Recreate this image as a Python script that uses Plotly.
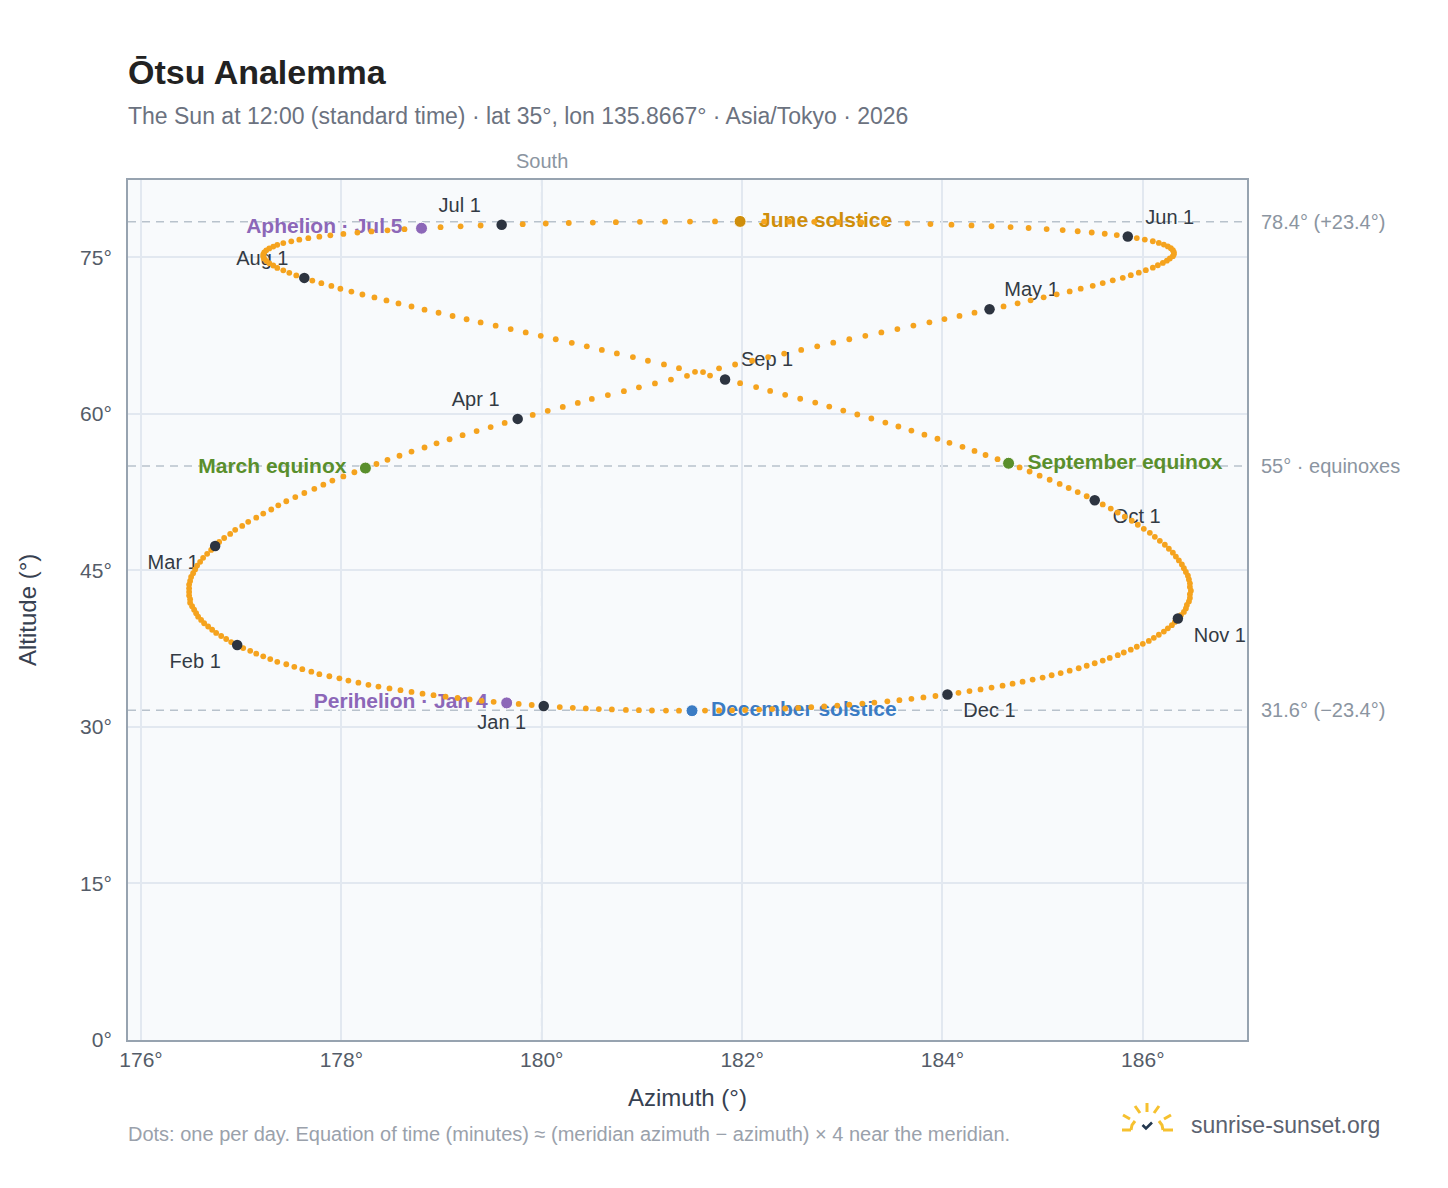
import plotly.graph_objects as go

# ---------------- data ----------------
AZIMUTH_DEG = [
    180.02, 179.90, 179.77, 179.65, 179.52, 179.40, 179.28, 179.16, 179.04, 178.92,
    178.81, 178.70, 178.59, 178.48, 178.37, 178.27, 178.17, 178.07, 177.98, 177.88,
    177.78, 177.70, 177.61, 177.53, 177.45, 177.36, 177.29, 177.22, 177.15, 177.09,
    177.02, 176.96, 176.90, 176.85, 176.80, 176.75, 176.71, 176.67, 176.63, 176.60,
    176.57, 176.55, 176.53, 176.51, 176.49, 176.49, 176.48, 176.48, 176.48, 176.48,
    176.49, 176.50, 176.52, 176.54, 176.56, 176.59, 176.62, 176.66, 176.70, 176.74,
    176.78, 176.83, 176.89, 176.94, 177.01, 177.07, 177.15, 177.22, 177.30, 177.37,
    177.45, 177.54, 177.63, 177.73, 177.82, 177.91, 178.02, 178.13, 178.24, 178.35,
    178.46, 178.58, 178.70, 178.83, 178.95, 179.08, 179.21, 179.35, 179.49, 179.63,
    179.76, 179.91, 180.06, 180.21, 180.36, 180.50, 180.66, 180.82, 180.97, 181.13,
    181.29, 181.45, 181.61, 181.77, 181.93, 182.10, 182.26, 182.42, 182.59, 182.75,
    182.91, 183.07, 183.23, 183.39, 183.55, 183.71, 183.87, 184.02, 184.17, 184.32,
    184.47, 184.61, 184.75, 184.88, 185.01, 185.14, 185.27, 185.38, 185.50, 185.60,
    185.70, 185.80, 185.88, 185.96, 186.03, 186.10, 186.15, 186.20, 186.24, 186.27,
    186.30, 186.31, 186.31, 186.30, 186.28, 186.25, 186.21, 186.16, 186.10, 186.02,
    185.94, 185.85, 185.74, 185.62, 185.49, 185.35, 185.20, 185.04, 184.86, 184.68,
    184.49, 184.29, 184.09, 183.88, 183.65, 183.42, 183.19, 182.96, 182.72, 182.47,
    182.22, 181.98, 181.73, 181.48, 181.23, 180.98, 180.74, 180.51, 180.27, 180.04,
    179.81, 179.60, 179.39, 179.19, 178.99, 178.80, 178.63, 178.46, 178.30, 178.16,
    178.02, 177.89, 177.78, 177.67, 177.58, 177.50, 177.42, 177.36, 177.32, 177.28,
    177.25, 177.23, 177.22, 177.22, 177.23, 177.25, 177.28, 177.32, 177.36, 177.42,
    177.48, 177.55, 177.63, 177.71, 177.80, 177.90, 177.99, 178.10, 178.21, 178.33,
    178.45, 178.57, 178.70, 178.83, 178.97, 179.11, 179.25, 179.39, 179.54, 179.69,
    179.84, 179.99, 180.14, 180.30, 180.45, 180.60, 180.75, 180.91, 181.06, 181.22,
    181.37, 181.53, 181.68, 181.83, 181.98, 182.14, 182.28, 182.43, 182.58, 182.73,
    182.87, 183.01, 183.15, 183.29, 183.43, 183.56, 183.69, 183.82, 183.95, 184.07,
    184.20, 184.32, 184.43, 184.55, 184.66, 184.77, 184.87, 184.97, 185.07, 185.17,
    185.26, 185.35, 185.44, 185.52, 185.60, 185.68, 185.75, 185.82, 185.89, 185.95,
    186.01, 186.07, 186.12, 186.17, 186.22, 186.26, 186.30, 186.33, 186.36, 186.39,
    186.41, 186.43, 186.45, 186.46, 186.47, 186.47, 186.48, 186.47, 186.47, 186.46,
    186.44, 186.43, 186.41, 186.38, 186.35, 186.32, 186.29, 186.25, 186.21, 186.16,
    186.11, 186.06, 186.00, 185.94, 185.88, 185.81, 185.75, 185.67, 185.60, 185.52,
    185.44, 185.36, 185.27, 185.18, 185.09, 185.00, 184.90, 184.80, 184.70, 184.60,
    184.49, 184.38, 184.27, 184.16, 184.05, 183.93, 183.81, 183.69, 183.57, 183.45,
    183.32, 183.20, 183.07, 182.95, 182.82, 182.69, 182.56, 182.43, 182.30, 182.17,
    182.03, 181.90, 181.77, 181.63, 181.50, 181.37, 181.24, 181.10, 180.97, 180.84,
    180.70, 180.57, 180.44, 180.31, 180.18,
]

ALTITUDE_DEG = [
    32.00, 32.10, 32.20, 32.30, 32.40, 32.50, 32.63, 32.77, 32.90, 33.04,
    33.18, 33.35, 33.52, 33.69, 33.86, 34.03, 34.24, 34.44, 34.65, 34.85,
    35.05, 35.29, 35.53, 35.76, 36.00, 36.23, 36.50, 36.76, 37.02, 37.29,
    37.55, 37.84, 38.13, 38.42, 38.71, 39.00, 39.31, 39.62, 39.93, 40.25,
    40.56, 40.89, 41.23, 41.56, 41.90, 42.23, 42.58, 42.93, 43.28, 43.64,
    43.99, 44.36, 44.72, 45.09, 45.46, 45.82, 46.20, 46.58, 46.96, 47.34,
    47.72, 48.10, 48.49, 48.88, 49.26, 49.65, 50.05, 50.44, 50.83, 51.23,
    51.62, 52.02, 52.41, 52.81, 53.21, 53.60, 54.00, 54.40, 54.80, 55.19,
    55.59, 55.98, 56.38, 56.77, 57.17, 57.56, 57.95, 58.34, 58.73, 59.12,
    59.51, 59.89, 60.28, 60.66, 61.04, 61.42, 61.79, 62.17, 62.54, 62.91,
    63.28, 63.64, 64.00, 64.36, 64.72, 65.08, 65.43, 65.77, 66.12, 66.46,
    66.81, 67.14, 67.47, 67.80, 68.12, 68.45, 68.76, 69.07, 69.38, 69.69,
    70.01, 70.29, 70.58, 70.87, 71.16, 71.45, 71.72, 71.99, 72.26, 72.52,
    72.79, 73.03, 73.28, 73.52, 73.76, 74.00, 74.23, 74.45, 74.67, 74.88,
    75.10, 75.29, 75.48, 75.67, 75.86, 76.04, 76.21, 76.37, 76.53, 76.69,
    76.84, 76.98, 77.12, 77.25, 77.37, 77.49, 77.60, 77.70, 77.80, 77.89,
    77.97, 78.05, 78.12, 78.18, 78.24, 78.28, 78.33, 78.36, 78.39, 78.41,
    78.42, 78.43, 78.43, 78.42, 78.41, 78.39, 78.36, 78.32, 78.28, 78.23,
    78.17, 78.11, 78.04, 77.96, 77.88, 77.78, 77.69, 77.58, 77.47, 77.36,
    77.23, 77.10, 76.97, 76.83, 76.68, 76.52, 76.36, 76.19, 76.02, 75.84,
    75.66, 75.46, 75.27, 75.07, 74.86, 74.65, 74.43, 74.21, 73.98, 73.75,
    73.51, 73.26, 73.02, 72.76, 72.51, 72.25, 71.98, 71.71, 71.43, 71.15,
    70.86, 70.57, 70.28, 69.98, 69.68, 69.37, 69.06, 68.75, 68.44, 68.12,
    67.80, 67.47, 67.14, 66.80, 66.46, 66.12, 65.78, 65.43, 65.08, 64.73,
    64.37, 64.02, 63.66, 63.29, 62.93, 62.56, 62.19, 61.82, 61.44, 61.07,
    60.69, 60.31, 59.93, 59.55, 59.16, 58.78, 58.39, 58.00, 57.61, 57.22,
    56.83, 56.44, 56.05, 55.65, 55.26, 54.86, 54.47, 54.07, 53.68, 53.28,
    52.89, 52.50, 52.10, 51.71, 51.32, 50.92, 50.53, 50.14, 49.75, 49.37,
    48.98, 48.59, 48.21, 47.83, 47.45, 47.07, 46.69, 46.32, 45.95, 45.57,
    45.21, 44.84, 44.48, 44.12, 43.76, 43.41, 43.05, 42.71, 42.36, 42.02,
    41.68, 41.35, 41.02, 40.70, 40.38, 40.06, 39.75, 39.44, 39.13, 38.83,
    38.53, 38.24, 37.96, 37.68, 37.40, 37.13, 36.87, 36.61, 36.35, 36.10,
    35.86, 35.62, 35.39, 35.16, 34.95, 34.73, 34.53, 34.33, 34.14, 33.95,
    33.77, 33.59, 33.43, 33.26, 33.11, 32.96, 32.82, 32.69, 32.56, 32.45,
    32.33, 32.23, 32.13, 32.04, 31.96, 31.89, 31.82, 31.76, 31.71, 31.66,
    31.62, 31.59, 31.57, 31.56, 31.55, 31.55, 31.56, 31.57, 31.60, 31.63,
    31.67, 31.71, 31.77, 31.83, 31.90,
]

MONTH_LABELS = ["Jan 1", "Feb 1", "Mar 1", "Apr 1", "May 1", "Jun 1",
                "Jul 1", "Aug 1", "Sep 1", "Oct 1", "Nov 1", "Dec 1"]
MONTH_START_INDEX = [0, 31, 59, 90, 120, 151, 181, 212, 243, 273, 304, 334]

EVENT_LABELS = ["Perihelion · Jan 4", "March equinox", "June solstice",
                "Aphelion · Jul 5", "September equinox", "December solstice"]
EVENT_INDEX = [3, 78, 171, 185, 264, 354]

REF_ALTITUDES = [78.4, 55.0, 31.6]
REF_LABELS = ["78.4° (+23.4°)", "55° · equinoxes", "31.6° (−23.4°)"]
MERIDIAN_AZ = 180

X_TICKS = [176, 178, 180, 182, 184, 186]
Y_TICKS = [0, 15, 30, 45, 60, 75]
X_RANGE = [175.87, 187.04]
Y_RANGE = [0, 82.4]

# ---------------- style ----------------
FONT = "Liberation Sans, Arial, Helvetica, sans-serif"
W, H = 1448, 1188
PAGE_OFFSET = 8          # default body margin of the html page
MARGIN = dict(l=120, r=209, t=172, b=156)
PW = W - MARGIN["l"] - MARGIN["r"]
PH = H - MARGIN["t"] - MARGIN["b"]
DX = (X_RANGE[1] - X_RANGE[0]) / PW   # data units per pixel
DY = (Y_RANGE[1] - Y_RANGE[0]) / PH

DOT_COLOR = "#f5a31e"
MONTH_DOT_COLOR = "#2d3440"
MONTH_TEXT_COLOR = "#333a44"
REF_COLOR = "#b8c2cc"
REF_TEXT = "#8b95a1"
TICK_TEXT = "#545c68"

# label side per month: (horizontal sign, vertical sign: +1 = below)
MONTH_LABEL_SIDE = [(-1, 1), (-1, 1), (-1, 1), (-1, -1), (1, -1), (1, -1),
                    (-1, -1), (-1, -1), (1, -1), (1, 1), (1, 1), (1, 1)]
EVENT_COLORS = ["#8c67b8", "#5a8f2c", "#cf8e0b", "#8c67b8", "#5a8f2c", "#3b7cc4"]
EVENT_SIDE = [-1, -1, 1, -1, 1, 1]


def px2paper_x(px):
    return (px - PAGE_OFFSET - MARGIN["l"]) / PW


def px2paper_y(py):
    return (MARGIN["t"] + PH - (py - PAGE_OFFSET)) / PH


fig = go.Figure()

# month labels (drawn first so the dots sit on top of them)
mx, my = [], []
for (sx, sy), i in zip(MONTH_LABEL_SIDE, MONTH_START_INDEX):
    mx.append(AZIMUTH_DEG[i] + sx * 42 * DX)
    my.append(ALTITUDE_DEG[i] - sy * 18 * DY)
fig.add_trace(go.Scatter(
    x=mx, y=my, mode="text", text=MONTH_LABELS, textposition="middle center",
    textfont=dict(family=FONT, size=20, color=MONTH_TEXT_COLOR),
    hoverinfo="skip", showlegend=False, cliponaxis=False))

# event labels
ex, ey, etxt, epos = [], [], [], []
for lab, i, side in zip(EVENT_LABELS, EVENT_INDEX, EVENT_SIDE):
    ex.append(AZIMUTH_DEG[i] + side * 19 * DX)
    ey.append(ALTITUDE_DEG[i])
    etxt.append("<b>" + lab + "</b>")
    epos.append("middle right" if side > 0 else "middle left")
fig.add_trace(go.Scatter(
    x=ex, y=ey, mode="text", text=etxt, textposition=epos,
    textfont=dict(family=FONT, size=21, color=EVENT_COLORS),
    hoverinfo="skip", showlegend=False, cliponaxis=False))

# daily dots
fig.add_trace(go.Scatter(
    x=AZIMUTH_DEG, y=ALTITUDE_DEG, mode="markers",
    marker=dict(size=5.8, color=DOT_COLOR, line=dict(width=0)),
    showlegend=False, hovertemplate="%{x:.2f}°, %{y:.2f}°<extra></extra>"))

# first-of-month dots
fig.add_trace(go.Scatter(
    x=[AZIMUTH_DEG[i] for i in MONTH_START_INDEX],
    y=[ALTITUDE_DEG[i] for i in MONTH_START_INDEX],
    mode="markers", marker=dict(size=10.5, color=MONTH_DOT_COLOR, line=dict(width=0)),
    text=MONTH_LABELS, hovertemplate="%{text}<extra></extra>", showlegend=False))

# event markers
fig.add_trace(go.Scatter(
    x=[AZIMUTH_DEG[i] for i in EVENT_INDEX],
    y=[ALTITUDE_DEG[i] for i in EVENT_INDEX],
    mode="markers", marker=dict(size=12, color=EVENT_COLORS, line=dict(width=1, color="white")),
    text=EVENT_LABELS, hovertemplate="%{text}<extra></extra>", showlegend=False))

shapes = []
for a in REF_ALTITUDES:
    shapes.append(dict(type="line", xref="paper", x0=0, x1=1, yref="y", y0=a, y1=a,
                       line=dict(color=REF_COLOR, width=1.6, dash="8px,6px"), layer="below"))
shapes.append(dict(type="line", xref="x", x0=MERIDIAN_AZ, x1=MERIDIAN_AZ, yref="paper", y0=0, y1=1,
                   line=dict(color=REF_COLOR, width=1.6, dash="8px,6px"), layer="below"))

# logo (sun with rays + check)
SUN = "#f6c12f"
NAVY = "#24384f"
ray_px = [((1147, 1103), (1147, 1112)), ((1135, 1106), (1140, 1113)), ((1159, 1106), (1154, 1113)),
          ((1123, 1115), (1130, 1119)), ((1171, 1115), (1164, 1119)),
          ((1122, 1130), (1131, 1130)), ((1163, 1130), (1173, 1130))]
for (a, b) in ray_px:
    shapes.append(dict(type="line", xref="paper", yref="paper",
                       x0=px2paper_x(a[0]), y0=px2paper_y(a[1]), x1=px2paper_x(b[0]), y1=px2paper_y(b[1]),
                       line=dict(color=SUN, width=3)))


def path_px(points):
    return "M " + " L ".join(f"{px2paper_x(x):.5f},{px2paper_y(y):.5f}" for x, y in points)


shapes.append(dict(type="path", xref="paper", yref="paper",
                   path=path_px([(1131, 1130), (1132, 1125), (1135, 1121)]),
                   line=dict(color=SUN, width=3)))
shapes.append(dict(type="path", xref="paper", yref="paper",
                   path=path_px([(1163, 1130), (1162, 1125), (1159, 1121)]),
                   line=dict(color=SUN, width=3)))
shapes.append(dict(type="path", xref="paper", yref="paper",
                   path=path_px([(1142.5, 1125), (1146, 1128.5), (1152, 1122.5)]),
                   line=dict(color=NAVY, width=2.6)))

ann = []
ann.append(dict(text="<b>Ōtsu Analemma</b>", xref="paper", yref="paper", x=0, y=px2paper_y(72),
                xanchor="left", yanchor="middle", xshift=-2, showarrow=False,
                font=dict(family=FONT, size=34, color="#222222")))
ann.append(dict(text="The Sun at 12:00 (standard time) · lat 35°, lon 135.8667° · Asia/Tokyo · 2026",
                xref="paper", yref="paper", x=0, y=px2paper_y(116), xanchor="left", yanchor="middle",
                xshift=-2, showarrow=False, font=dict(family=FONT, size=23, color="#6b7280")))
ann.append(dict(text="South", xref="x", yref="paper", x=MERIDIAN_AZ, y=px2paper_y(161),
                xanchor="center", yanchor="middle", showarrow=False,
                font=dict(family=FONT, size=20, color=REF_TEXT)))
for a, lab in zip(REF_ALTITUDES, REF_LABELS):
    ann.append(dict(text=lab, xref="paper", yref="y", x=1, y=a, xanchor="left", yanchor="middle",
                    xshift=12, showarrow=False, font=dict(family=FONT, size=20, color=REF_TEXT)))
ann.append(dict(text="Azimuth (°)", xref="paper", yref="paper", x=0.5, y=px2paper_y(1097),
                xanchor="center", yanchor="middle", showarrow=False,
                font=dict(family=FONT, size=24, color="#374151")))
ann.append(dict(text="Altitude (°)", xref="paper", yref="paper", x=px2paper_x(27), y=0.5,
                xanchor="center", yanchor="middle", textangle=-90, showarrow=False,
                font=dict(family=FONT, size=24, color="#374151")))
ann.append(dict(text="Dots: one per day. Equation of time (minutes) ≈ (meridian azimuth − azimuth) × 4 near the meridian.",
                xref="paper", yref="paper", x=px2paper_x(128), y=px2paper_y(1134), xanchor="left", yanchor="middle",
                xshift=-2, showarrow=False, font=dict(family=FONT, size=20, color="#9aa1ab")))
ann.append(dict(text="sunrise-sunset.org", xref="paper", yref="paper", x=px2paper_x(1189),
                y=px2paper_y(1125), xanchor="left", yanchor="middle", showarrow=False,
                font=dict(family=FONT, size=23, color="#5b6270")))

fig.update_layout(
    width=W, height=H, autosize=False, margin=MARGIN,
    paper_bgcolor="white", plot_bgcolor="#f8fafc",
    shapes=shapes, annotations=ann, showlegend=False,
    font=dict(family=FONT),
    xaxis=dict(range=X_RANGE, tickvals=X_TICKS, ticktext=[f"{v}°" for v in X_TICKS],
               showgrid=True, gridcolor="#e2e8f0", gridwidth=1.5, zeroline=False,
               showline=True, linecolor="#97a3b0", linewidth=2, mirror=True,
               ticks="", tickfont=dict(family=FONT, size=21, color=TICK_TEXT)),
    yaxis=dict(range=Y_RANGE, tickvals=Y_TICKS, ticktext=[f"{v}°" for v in Y_TICKS],
               showgrid=True, gridcolor="#e2e8f0", gridwidth=1.5, zeroline=False,
               showline=True, linecolor="#97a3b0", linewidth=2, mirror=True,
               ticks="", ticklabelstandoff=10,
               tickfont=dict(family=FONT, size=21, color=TICK_TEXT)),
)

fig.write_html("out.html")
